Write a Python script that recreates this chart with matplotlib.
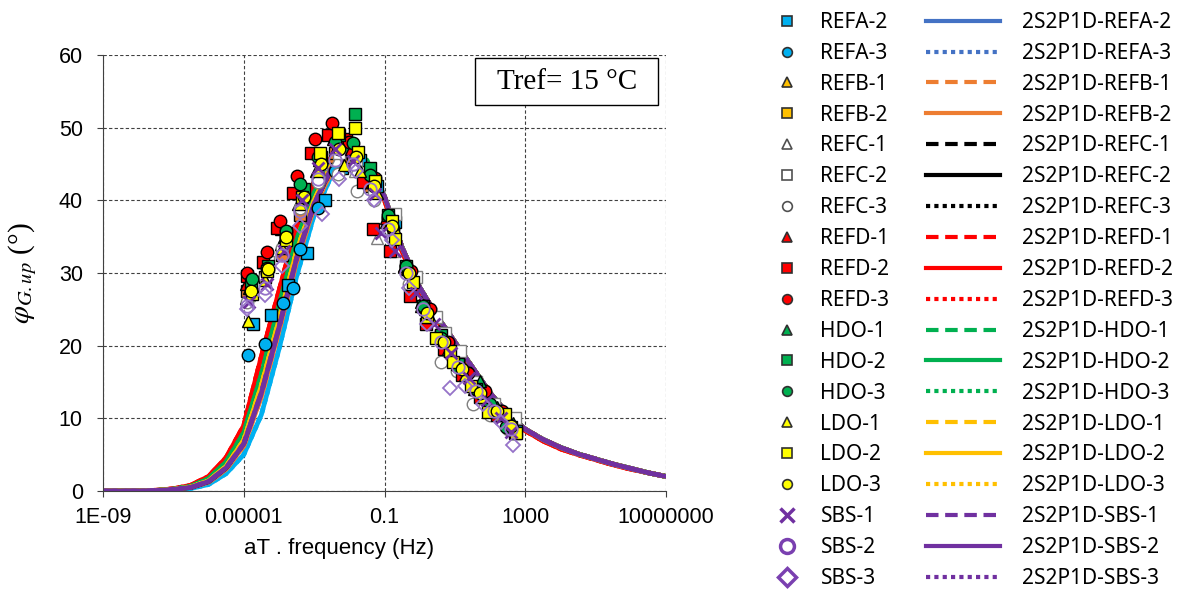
import numpy as np
import matplotlib
matplotlib.use('Agg')
import matplotlib.pyplot as plt
from matplotlib.lines import Line2D
from matplotlib.patches import Rectangle
from matplotlib.ticker import FixedLocator, NullLocator

plt.rcParams['font.family'] = ['Liberation Sans', 'DejaVu Sans']
plt.rcParams['mathtext.fontset'] = 'stix'

# ============ 数据 (log10 频率, 相位角) ============
SERIES = ["REFA-2", "REFA-3", "REFB-1", "REFB-2", "REFC-1", "REFC-2", "REFC-3",
          "REFD-1", "REFD-2", "REFD-3", "HDO-1", "HDO-2", "HDO-3",
          "LDO-1", "LDO-2", "LDO-3", "SBS-1", "SBS-2", "SBS-3"]

LF_REFA2 = [-4.74, -4.23, -3.74, -3.2, -2.7, -2.2, -1.7, -1.2, -0.7, -0.2, 0.3, 0.8, 1.3, 1.8, 2.3, 2.75]
PH_REFA2 = [23.0, 24.2, 28.3, 32.8, 40.0, 44.5, 45.5, 42.0, 37.0, 29.0, 24.5, 20.0, 16.3, 13.0, 10.5, 8.3]
LF_REFA3 = [-4.88, -4.39, -3.89, -3.6, -3.4, -2.9, -2.4, -1.9, -1.4, -0.9, -0.4, 0.1, 0.6, 1.1, 1.6, 2.1, 2.6]
PH_REFA3 = [18.7, 20.2, 25.9, 28.0, 33.3, 38.9, 44.0, 45.8, 43.0, 37.5, 31.0, 25.5, 21.8, 18.0, 14.5, 11.8, 9.4]
LF_REFB1 = [-4.95, -4.45, -3.95, -3.45, -2.95, -2.45, -1.95, -1.45, -0.95, -0.45, 0.05, 0.55, 1.05, 1.55, 2.05, 2.55]
PH_REFB1 = [26.5, 30.0, 34.0, 39.5, 44.0, 46.0, 45.5, 42.0, 37.0, 31.0, 26.0, 22.0, 18.0, 14.5, 11.5, 9.3]
LF_REFB2 = [-4.9, -4.4, -3.9, -3.4, -2.9, -2.4, -1.9, -1.4, -0.9, -0.4, 0.1, 0.6, 1.1, 1.6, 2.1, 2.6]
PH_REFB2 = [27.5, 29.5, 32.5, 38.0, 43.0, 46.5, 46.0, 42.5, 37.0, 30.5, 25.5, 21.5, 17.5, 14.0, 11.2, 9.0]
LF_REFC1 = [-4.85, -4.35, -3.85, -3.35, -2.85, -2.35, -1.85, -1.2, -0.75, -0.25, 0.25, 0.75, 1.25, 1.75, 2.25, 2.7]
PH_REFC1 = [27.0, 31.0, 35.0, 40.5, 44.0, 45.5, 44.0, 34.8, 33.0, 29.0, 24.0, 20.5, 16.5, 13.5, 10.8, 8.6]
LF_REFC2 = [-4.8, -4.3, -3.8, -3.3, -2.8, -2.3, -1.8, -1.3, -0.69, -0.1, 0.45, 0.71, 1.14, 1.6, 2.1, 2.7]
PH_REFC2 = [28.0, 31.5, 35.5, 41.0, 45.0, 46.5, 45.0, 41.5, 38.1, 29.5, 24.0, 21.8, 19.3, 15.0, 12.0, 10.1]
LF_REFC3 = [-4.9, -4.4, -3.9, -3.4, -2.9, -2.33, -1.78, -1.3, -0.8, -0.3, 0.2, 0.6, 1.05, 1.51, 2.0, 2.5]
PH_REFC3 = [26.0, 29.5, 33.5, 39.0, 42.5, 43.6, 41.3, 40.0, 35.0, 28.5, 23.5, 17.7, 16.5, 12.0, 10.5, 8.5]
LF_REFD1 = [-4.95, -4.45, -3.95, -3.45, -2.95, -2.45, -1.95, -1.45, -0.95, -0.45, 0.05, 0.55, 1.05, 1.55, 2.05, 2.55]
PH_REFD1 = [28.5, 31.5, 36.0, 42.0, 46.5, 48.5, 47.0, 43.0, 37.5, 31.0, 25.5, 21.5, 17.5, 14.0, 11.5, 9.0]
LF_REFD2 = [-4.9, -4.45, -4.05, -3.6, -3.1, -2.6, -2.1, -1.6, -1.33, -0.85, -0.28, 0.17, 0.7, 1.2, 1.7, 2.2, 2.7]
PH_REFD2 = [29.6, 31.5, 36.2, 41.0, 46.5, 49.0, 48.5, 42.5, 36.0, 33.0, 26.9, 23.0, 19.5, 16.0, 13.0, 10.5, 8.0]
LF_REFD3 = [-4.9, -4.34, -3.97, -3.5, -2.98, -2.5, -2.0, -1.27, -0.75, -0.26, 0.29, 0.8, 1.37, 1.86, 2.35]
PH_REFD3 = [30.0, 32.9, 37.2, 43.4, 48.4, 50.7, 48.0, 43.1, 36.0, 30.3, 25.1, 20.5, 16.3, 13.8, 11.0]
LF_HDO1 = [-4.85, -4.35, -3.85, -3.35, -2.85, -2.35, -1.85, -1.35, -0.85, -0.35, 0.15, 0.65, 1.15, 1.71, 2.2, 2.66]
PH_HDO1 = [28.0, 31.0, 35.0, 41.0, 45.5, 47.5, 46.5, 42.5, 37.0, 30.5, 25.0, 21.0, 17.5, 15.2, 11.5, 9.3]
LF_HDO2 = [-4.8, -4.3, -3.8, -3.3, -2.8, -2.3, -1.84, -1.4, -0.9, -0.4, 0.1, 0.6, 1.1, 1.6, 2.1, 2.6]
PH_HDO2 = [28.5, 31.0, 35.5, 41.5, 46.0, 49.0, 51.9, 44.5, 38.0, 31.0, 25.5, 21.5, 17.5, 14.0, 11.0, 8.8]
LF_HDO3 = [-4.77, -4.34, -3.8, -3.4, -2.9, -2.4, -1.9, -1.4, -0.9, -0.4, 0.1, 0.6, 1.1, 1.6, 2.0, 2.46]
PH_HDO3 = [29.2, 30.7, 35.8, 42.2, 46.0, 48.0, 47.9, 43.5, 38.0, 31.0, 25.5, 21.0, 17.0, 14.0, 12.0, 8.8]
LF_LDO1 = [-4.88, -4.4, -3.9, -3.4, -2.9, -2.16, -1.7, -1.2, -0.7, -0.2, 0.3, 0.8, 1.3, 1.8, 2.3, 2.7]
PH_LDO1 = [23.4, 29.0, 33.5, 39.5, 44.0, 44.8, 44.0, 41.0, 36.0, 29.0, 24.0, 19.5, 16.0, 13.0, 10.5, 8.5]
LF_LDO2 = [-4.77, -4.34, -3.8, -3.35, -2.84, -2.33, -1.84, -1.76, -1.27, -0.8, -0.71, -0.2, 0.2, 0.46,
           0.86, 0.94, 1.46, 1.94, 2.43, 2.75]
PH_LDO2 = [27.1, 30.3, 34.5, 40.5, 46.5, 49.3, 49.9, 46.6, 42.6, 37.2, 34.7, 28.7, 23.9, 21.1,
           19.3, 17.7, 14.5, 10.9, 10.6, 8.0]
LF_LDO3 = [-4.8, -4.3, -3.8, -3.3, -2.8, -2.3, -1.8, -1.3, -0.8, -0.3, 0.2, 0.7, 1.2, 1.7, 2.2, 2.6]
PH_LDO3 = [27.5, 30.5, 35.0, 40.5, 45.0, 47.0, 46.0, 42.0, 36.5, 30.0, 24.5, 20.5, 16.8, 13.5, 11.0, 9.0]
LF_SBS1 = [-4.85, -4.35, -3.85, -3.35, -2.9, -2.4, -1.9, -1.27, -1.1, -0.7, -0.1, 0.4, 0.9, 1.4, 1.9, 2.3, 2.6]
PH_SBS1 = [26.0, 28.5, 33.0, 40.0, 44.5, 47.0, 45.4, 40.9, 35.5, 33.0, 27.3, 23.0, 19.0, 15.5, 12.5, 10.0, 8.1]
LF_SBS2 = [-4.9, -4.4, -3.9, -3.4, -2.9, -2.4, -1.9, -1.4, -0.9, -0.4, 0.1, 0.6, 1.1, 1.6, 2.1, 2.6]
PH_SBS2 = [25.5, 28.0, 32.5, 38.5, 43.0, 45.5, 45.0, 41.5, 36.0, 30.0, 25.0, 20.5, 17.0, 13.8, 11.0, 8.5]
LF_SBS3 = [-4.9, -4.4, -3.9, -3.4, -2.78, -2.3, -1.8, -1.3, -0.8, -0.3, 0.2, 0.86, 1.3, 1.8, 2.3, 2.66]
PH_SBS3 = [25.0, 27.0, 31.0, 36.5, 38.1, 43.0, 44.0, 40.0, 34.5, 28.0, 23.0, 14.2, 14.5, 12.0, 9.5, 6.3]

# 2S2P1D 模型曲线
LF_MODEL = [-9, -8, -7.5, -7, -6.5, -6, -5.5, -5, -4.5, -4, -3.5, -3, -2.5, -2, -1.5, -1,
            -0.5, 0, 0.5, 1, 1.5, 2, 2.5, 3, 3.5, 4, 4.5, 5, 5.5, 6, 6.5, 7]
M_REFA = [0, 0, 0.03, 0.12, 0.35, 0.9, 2.4, 5.0, 10.5, 19.5, 29.5, 38.0, 43.5, 46.0, 45.0, 40.5,
          33.5, 28.0, 24.0, 20.5, 17.0, 13.5, 10.6, 8.5, 7.1, 6.0, 5.1, 4.4, 3.7, 3.1, 2.5, 2.0]
M_REFB = [0, 0, 0.05, 0.2, 0.5, 1.2, 3.0, 6.2, 13.0, 22.0, 31.5, 39.0, 44.0, 46.0, 45.0, 40.5,
          33.5, 28.0, 24.0, 20.5, 17.0, 13.5, 10.6, 8.5, 7.1, 6.0, 5.1, 4.4, 3.7, 3.1, 2.5, 2.0]
M_REFC = [0, 0, 0.05, 0.2, 0.5, 1.3, 3.2, 6.6, 13.8, 23.0, 32.5, 39.5, 44.5, 46.5, 45.0, 40.5,
          33.5, 28.0, 24.0, 20.5, 17.0, 13.5, 10.6, 8.5, 7.1, 6.0, 5.1, 4.4, 3.7, 3.1, 2.5, 2.0]
M_REFD = [0, 0, 0.1, 0.3, 0.8, 2.0, 4.6, 9.0, 18.5, 27.5, 36.5, 42.5, 46.0, 47.0, 45.0, 40.0,
          33.0, 27.5, 23.5, 20.0, 16.5, 13.2, 10.4, 8.3, 6.9, 5.8, 5.0, 4.3, 3.6, 3.0, 2.5, 2.0]
M_HDO = [0, 0, 0.08, 0.25, 0.65, 1.7, 4.0, 8.0, 16.0, 25.5, 34.5, 41.0, 45.5, 47.0, 45.5, 40.5,
         33.5, 28.0, 24.0, 20.5, 17.0, 13.5, 10.6, 8.5, 7.1, 6.0, 5.1, 4.4, 3.7, 3.1, 2.5, 2.0]
M_LDO = [0, 0, 0.06, 0.22, 0.55, 1.4, 3.4, 7.0, 14.5, 23.5, 33.0, 40.0, 45.0, 46.5, 45.0, 40.5,
         33.5, 28.0, 24.0, 20.5, 17.0, 13.5, 10.6, 8.5, 7.1, 6.0, 5.1, 4.4, 3.7, 3.1, 2.5, 2.0]
M_SBS = [0, 0, 0.05, 0.2, 0.5, 1.3, 3.2, 6.5, 13.5, 22.5, 32.0, 39.5, 44.5, 46.5, 45.0, 40.5,
         33.5, 28.0, 24.0, 20.5, 17.0, 13.5, 10.6, 8.5, 7.1, 6.0, 5.1, 4.4, 3.7, 3.1, 2.5, 2.0]

X_TICKS = [1e-9, 1e-5, 1e-1, 1e3, 1e7]
X_TICKLABELS = ["1E-09", "0.00001", "0.1", "1000", "10000000"]

# ============ 样式 ============
CYAN = '#00B0F0'
ORANGE = '#ED7D31'
AMBER = '#FFC000'
RED = '#FF0000'
GREEN = '#00B050'
YELLOW = '#FFFF00'
PURPLE = '#7030A0'
LPURPLE = '#9673C8'
GRAY = '#7F7F7F'

DASH = (0, (3, 1.6))
DOT = (0, (1, 1))

# (数据, 标记, 填充, 边框, 图例填充)
MARKER_STYLE = [
    (LF_REFA2, PH_REFA2, 's', CYAN, 'black', CYAN),
    (LF_REFA3, PH_REFA3, 'o', CYAN, 'black', CYAN),
    (LF_REFB1, PH_REFB1, '^', ORANGE, 'black', AMBER),
    (LF_REFB2, PH_REFB2, 's', ORANGE, 'black', AMBER),
    (LF_REFC1, PH_REFC1, '^', 'white', GRAY, 'white'),
    (LF_REFC2, PH_REFC2, 's', 'white', GRAY, 'white'),
    (LF_REFC3, PH_REFC3, 'o', 'white', GRAY, 'white'),
    (LF_REFD1, PH_REFD1, '^', RED, 'black', RED),
    (LF_REFD2, PH_REFD2, 's', RED, 'black', RED),
    (LF_REFD3, PH_REFD3, 'o', RED, 'black', RED),
    (LF_HDO1, PH_HDO1, '^', GREEN, 'black', GREEN),
    (LF_HDO2, PH_HDO2, 's', GREEN, 'black', GREEN),
    (LF_HDO3, PH_HDO3, 'o', GREEN, 'black', GREEN),
    (LF_LDO1, PH_LDO1, '^', YELLOW, 'black', YELLOW),
    (LF_LDO2, PH_LDO2, 's', YELLOW, 'black', YELLOW),
    (LF_LDO3, PH_LDO3, 'o', YELLOW, 'black', YELLOW),
    (LF_SBS1, PH_SBS1, 'x', PURPLE, PURPLE, PURPLE),
    (LF_SBS2, PH_SBS2, 'o', 'none', LPURPLE, 'none'),
    (LF_SBS3, PH_SBS3, 'D', 'none', LPURPLE, 'none'),
]

# (模型曲线, 图中颜色, 图例颜色, 线型)
LINE_STYLE = [
    (M_REFA, CYAN, '#4472C4', '-'), (M_REFA, CYAN, '#4472C4', DOT),
    (M_REFB, ORANGE, ORANGE, DASH), (M_REFB, ORANGE, ORANGE, '-'),
    (M_REFC, 'black', 'black', DASH), (M_REFC, 'black', 'black', '-'), (M_REFC, 'black', 'black', DOT),
    (M_REFD, RED, RED, DASH), (M_REFD, RED, RED, '-'), (M_REFD, RED, RED, DOT),
    (M_HDO, GREEN, GREEN, DASH), (M_HDO, GREEN, GREEN, '-'), (M_HDO, GREEN, GREEN, DOT),
    (M_LDO, AMBER, AMBER, DASH), (M_LDO, AMBER, AMBER, '-'), (M_LDO, AMBER, AMBER, DOT),
    (M_SBS, PURPLE, PURPLE, DASH), (M_SBS, PURPLE, PURPLE, '-'), (M_SBS, PURPLE, PURPLE, DOT),
]

fig = plt.figure(figsize=(11.84, 5.95), dpi=100)
ax = fig.add_axes([0.087, 0.1748, 0.4755, 0.7328])

f_model = 10 ** np.array(LF_MODEL)
for m, c, _, ls in LINE_STYLE:
    ax.plot(f_model, m, color=c, lw=3.4, ls=ls, dash_capstyle='butt', zorder=2)

for lf, ph, mk, fc, ec, _ in MARKER_STYLE:
    mew = 2.0 if mk == 'x' else (1.3 if fc == 'none' else 1.0)
    ax.plot(10 ** np.array(lf), ph, ls='none', marker=mk, ms=9 if mk != 'D' else 7.5,
            mfc=fc, mec=ec, mew=mew, color=ec, zorder=3)

ax.set_xscale('log')
ax.set_xlim(1e-9, 1e7)
ax.set_ylim(0, 60)
ax.xaxis.set_major_locator(FixedLocator(X_TICKS))
ax.xaxis.set_minor_locator(NullLocator())
ax.set_xticklabels(X_TICKLABELS)
ax.set_yticks(range(0, 61, 10))
ax.tick_params(axis='both', labelsize=15.5, direction='out', length=4.5, width=0.8, color='#404040')
ax.tick_params(axis='y', pad=10)
ax.tick_params(axis='x', pad=7)
ax.grid(True, which='major', ls=(0, (3, 2)), color='#404040', lw=0.8)
ax.set_axisbelow(True)
for s in ['top', 'right']:
    ax.spines[s].set_visible(False)
for s in ['left', 'bottom']:
    ax.spines[s].set_color('#404040')

ax.set_xlabel('aT . frequency (Hz)', fontsize=16)
ax.xaxis.set_label_coords(0.419, -0.108)
ax.set_ylabel(r'$\varphi_{G.up}$ (°)', fontsize=21, family='Liberation Serif', labelpad=14)

# Tref 标注框
ax.add_patch(Rectangle((0.661, 0.885), 0.325, 0.108, transform=ax.transAxes,
                       fc='white', ec='black', lw=1.0, zorder=5, clip_on=False))
ax.text(0.8235, 0.939, 'Tref= 15 °C', transform=ax.transAxes, ha='center', va='center',
        fontsize=21, family='Liberation Serif', zorder=6)

# ============ 图例 ============
mk_handles = []
for _, _, mk, _, ec, lfc in MARKER_STYLE:
    if mk == 'x':
        h = Line2D([], [], ls='none', marker='x', ms=10, mew=2.5, color=PURPLE)
    elif lfc == 'none':
        h = Line2D([], [], ls='none', marker=mk, ms=10 if mk == 'o' else 9, mfc='none', mec='#7A40B0', mew=2.5)
    else:
        h = Line2D([], [], ls='none', marker=mk, ms=7, mfc=lfc, mec='#303030' if ec == 'black' else '#505050',
                   mew=1.2)
    mk_handles.append(h)

ln_handles = [Line2D([], [], color=lc, lw=3, ls=ls, dash_capstyle='butt') for _, _, lc, ls in LINE_STYLE]

leg_kw = dict(frameon=False, loc='upper left', borderpad=0, borderaxespad=0,
              prop={'family': 'Noto Sans', 'size': 15}, labelspacing=0.475)
leg1 = fig.legend(mk_handles, SERIES, bbox_to_anchor=(0.656, 0.98), handlelength=1.0,
                  handletextpad=1.1, **leg_kw)
leg2 = fig.legend(ln_handles, ['2S2P1D-' + s for s in SERIES], bbox_to_anchor=(0.782, 0.98),
                  handlelength=3.56, handletextpad=1.06, **leg_kw)

fig.savefig('out.png', dpi=100)
